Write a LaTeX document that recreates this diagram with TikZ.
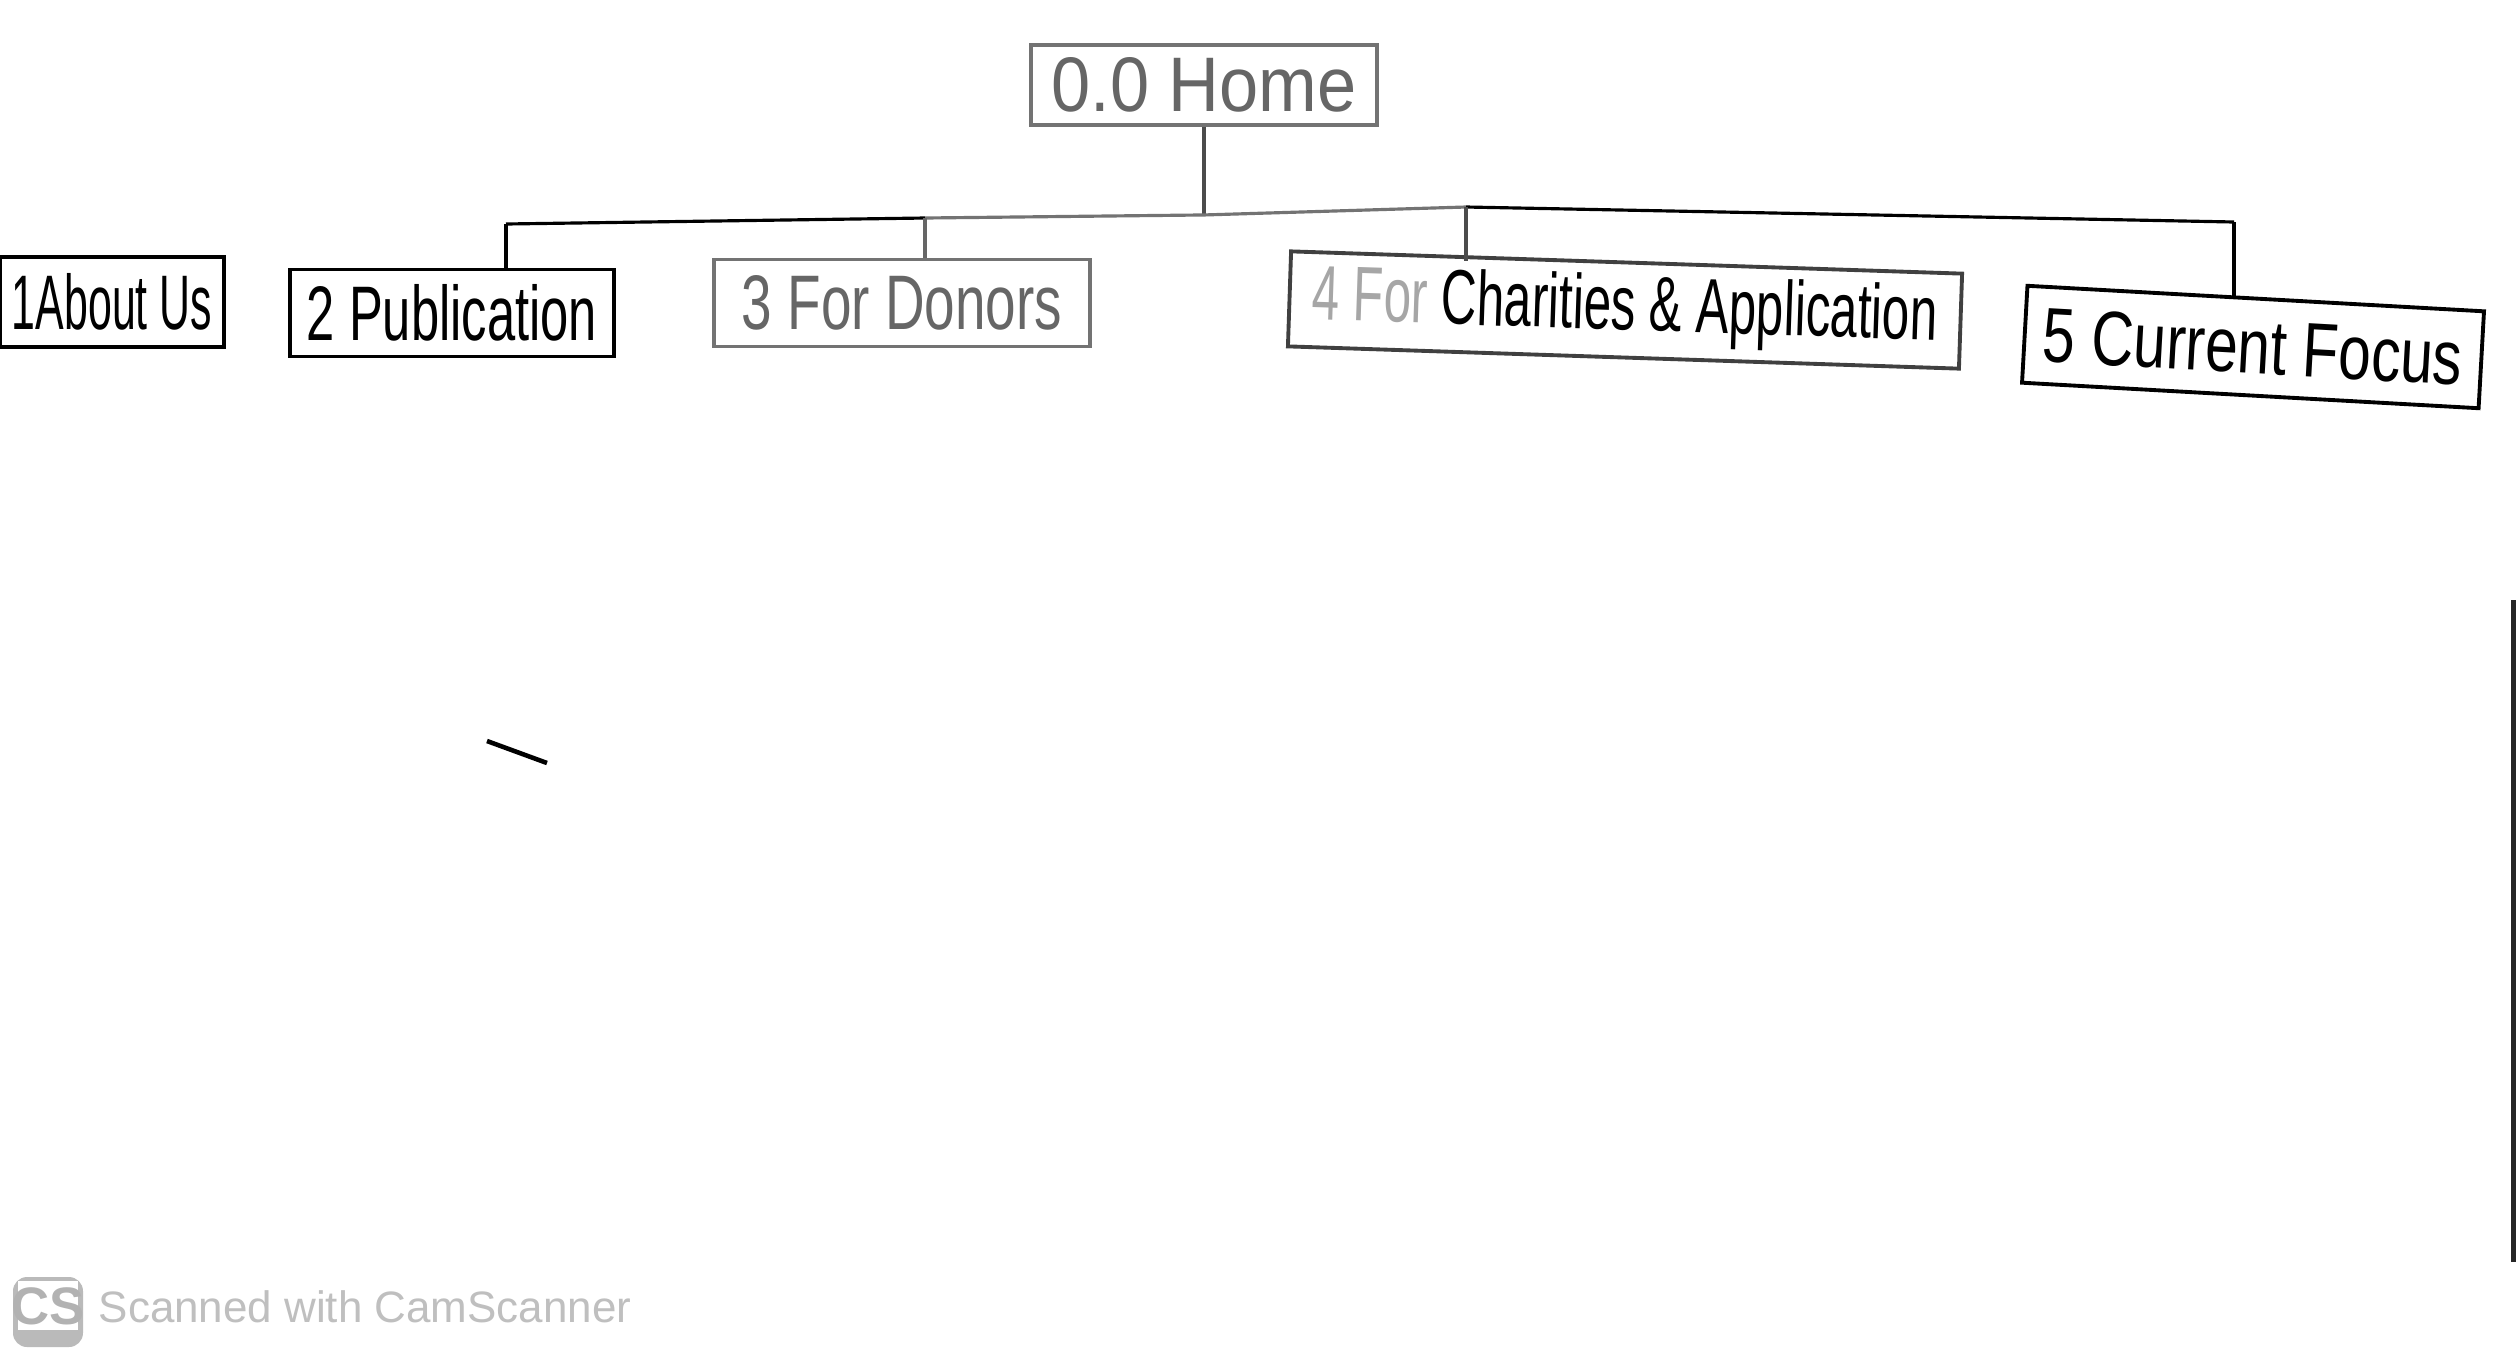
\documentclass[tikz,border=0pt]{standalone}
\usepackage{fontspec}
\setmainfont{Liberation Sans}
\usepackage{graphicx}
\newcommand{\handlbl}[2]{\resizebox{#1}{\height}{#2}}
\begin{document}
\begin{tikzpicture}[x=0.01cm,y=-0.01cm,
        box/.style={draw,line width=1.1pt,inner sep=0pt,font=\fontsize{22}{26}\selectfont},
        faint/.style={box,draw=black!55,text=black!60},
        link/.style={draw,line width=0.9pt},
        wmark/.style={text=black!25,inner sep=0pt,font=\fontsize{12.5}{15}\selectfont}]
        \useasboundingbox[fill=white] (0,0) rectangle (2516,1360);
        % Root
        \node[faint,minimum width=3.45cm,minimum height=0.8cm] (home) at (1204,85) {\handlbl{3.05cm}{0.0 Home}};
        % Pages
        \node[box,minimum width=2.24cm,minimum height=0.9cm] (about) at (112,302) {\handlbl{2.0cm}{1About Us}};
        \node[box,minimum width=3.24cm,minimum height=0.87cm] (pub) at (452,313) {\handlbl{2.9cm}{2 Publication}};
        \node[faint,minimum width=3.75cm,minimum height=0.87cm] (donors) at (902,303) {\handlbl{3.2cm}{3 For Donors}};
        \node[box,draw=black!75,minimum width=6.71cm,minimum height=0.95cm,rotate=-1.9] (charities) at (1625,310)
            {\handlbl{6.25cm}{\textcolor{black!35}{4 For} Charities \& Application}};
        \node[box,minimum width=4.57cm,minimum height=0.97cm,rotate=-3.2] (focus) at (2253,347) {\handlbl{4.2cm}{5 Current Focus}};
        % Connectors
        \draw[link,draw=black!70] (home.south) -- ++(0,88) coordinate (hub);
        \coordinate (t1) at (506,224);
        \coordinate (t2) at (925,218);
        \coordinate (t3) at (1466,207);
        \coordinate (t4) at (2234,222);
        \draw[link] (t1) -- (t2);
        \draw[link,draw=black!55] (t2) -- (hub) -- (t3);
        \draw[link] (t3) -- (t4);
        \draw[link] (t1) -- (t1 |- pub.north);
        \draw[link,draw=black!60] (t2) -- (t2 |- donors.north);
        \draw[link,draw=black!70] (t3) -- (t3 |- charities.north);
        \draw[link] (t4) -- (t4 |- focus.north);
        % Stray marks of the scan
        \draw[line width=1.3pt] (487,741) -- (547,763);
        \draw[line width=2pt,draw=black!85] (2514,600) -- (2514,1262);
        % Watermark
        \draw[fill=black!27,draw=none,rounded corners=4pt] (13,1277) rectangle (83,1347);
        \fill[white] (18,1281) rectangle (78,1330);
        \node[wmark,font=\fontsize{15}{18}\selectfont\bfseries,text=black!30] (cs) at (48,1306) {CS};
        \node[wmark,anchor=west] (scan) at (98,1307) {Scanned with CamScanner};
\end{tikzpicture}
\end{document}
